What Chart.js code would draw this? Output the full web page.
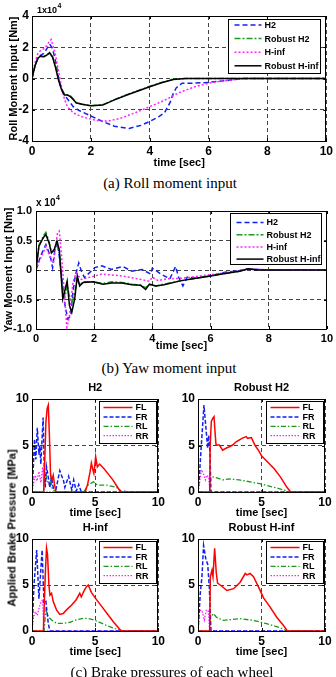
<!DOCTYPE html>
<html>
<head>
<meta charset="utf-8">
<script src="https://cdn.jsdelivr.net/npm/chart.js@4.4.0/dist/chart.umd.min.js"></script>
<style>
  body { margin: 0; background: #fff; width: 336px; height: 677px; position: relative; overflow: hidden; }
  canvas { position: absolute; }
  .cap { position: absolute; width: 336px; text-align: center; font-family: "Liberation Serif", "Times New Roman", serif; font-size: 15px; line-height: 18px; color: #000; }
  .ylab { position: absolute; font-family: "Liberation Sans", Arial, sans-serif; font-weight: bold; font-size: 11px; line-height: 13px; white-space: nowrap; transform: translate(-50%, -50%) rotate(-90deg); }
</style>
</head>
<body>
<canvas id="roll" width="336" height="170" style="left:0;top:0"></canvas>
<div class="cap" style="left:2px;top:174px">(a) Roll moment input</div>
<canvas id="yaw" width="336" height="163" style="left:0;top:190px"></canvas>
<div class="cap" style="left:1px;top:359px">(b) Yaw moment input</div>
<canvas id="bH2" width="168" height="145" style="left:0;top:375px"></canvas>
<canvas id="bRH2" width="168" height="145" style="left:168px;top:375px"></canvas>
<canvas id="bHinf" width="168" height="144" style="left:0;top:515px"></canvas>
<canvas id="bRHinf" width="168" height="144" style="left:168px;top:515px"></canvas>
<div class="ylab" style="left:12px;top:528px">Applied Brake Pressure [MPa]</div>
<div class="cap" style="left:4px;top:663px">(c) Brake pressures of each wheel</div>
<script>
// ---- roll moment input, x1e4 Nm ----
const rollT_H2 = [0,0.1,0.2,0.3,0.4,0.5,0.6,0.7,0.8,0.9,1.0,1.1,1.2,1.4,1.6,2.0,2.4,2.8,3.3,3.7,4.0,4.3,4.5,4.7,4.8,4.9,5.1,5.5,6.0,6.5,7.2,10];
const rollH2    = [0,0.8,1.3,1.5,1.6,1.9,2.2,1.9,1.1,0.1,-0.7,-1.05,-1.3,-1.8,-2.05,-2.4,-2.75,-3.05,-3.2,-3.0,-2.75,-2.45,-2.2,-1.5,-0.95,-0.6,-0.3,-0.3,-0.25,-0.15,0,0];
const rollT_Hinf = [0,0.1,0.2,0.3,0.4,0.5,0.6,0.65,0.7,0.8,0.9,1.0,1.1,1.2,1.4,1.7,2.0,2.3,2.6,3.0,3.5,4.0,4.5,5.0,5.5,6.0,6.5,7.0,7.3,10];
const rollHinf   = [0,1.0,1.6,1.8,1.9,2.1,2.4,2.5,2.2,1.5,0.5,-0.5,-1.3,-1.8,-2.2,-2.45,-2.6,-2.72,-2.72,-2.55,-2.2,-1.8,-1.4,-0.9,-0.55,-0.3,-0.15,-0.05,0,0];
const rollT_R   = [0,0.1,0.2,0.3,0.4,0.5,0.6,0.7,0.8,0.9,1.0,1.1,1.2,1.3,1.4,1.5,1.7,2.0,2.4,2.8,3.2,3.6,4.0,4.4,4.8,5.2,6.0,10];
const rollRH2   = [0,0.8,1.3,1.4,1.4,1.5,1.6,1.4,0.8,0,-0.6,-1.0,-1.05,-1.1,-1.3,-1.55,-1.65,-1.75,-1.68,-1.35,-1.05,-0.78,-0.5,-0.25,-0.05,0,0,0];
const rollRHinf = [0,0.8,1.3,1.45,1.4,1.5,1.65,1.35,0.7,-0.1,-0.7,-1.05,-1.05,-1.15,-1.35,-1.55,-1.65,-1.75,-1.7,-1.37,-1.07,-0.8,-0.53,-0.27,-0.06,0,0,0];

// ---- yaw moment input, x1e4 Nm ----
const yawT_H2 = [0,0.16,0.34,0.49,0.57,0.65,0.74,0.86,0.98,1.09,1.19,1.27,1.35,1.47,1.56,1.67,1.85,2.02,2.26,2.6,2.98,3.3,3.65,3.94,4.0,4.3,4.6,4.8,4.9,5.05,5.2,5.5,6.0,6.5,7.0,7.3,8.0,10];
const yawH2   = [0,0.24,0.43,0.24,0.04,0.35,0.46,0.01,-0.55,-0.83,-0.78,-0.38,-0.1,0.12,-0.02,-0.13,-0.04,0.04,0.07,0.01,0.06,-0.02,0.01,-0.07,0.03,-0.07,-0.15,0.06,-0.12,-0.27,-0.12,-0.14,-0.1,-0.04,-0.01,0.02,0,0];
const yawT_Hinf = [0,0.16,0.34,0.51,0.6,0.74,0.8,0.88,0.98,1.06,1.15,1.27,1.38,1.56,1.79,2.26,2.95,3.5,3.9,4.0,4.2,4.5,5.0,5.5,6.0,6.5,7.0,7.3,8.0,10];
const yawHinf   = [0,0.2,0.4,0.18,0.12,0.63,0.66,0.24,-0.44,-0.97,-0.78,-0.21,-0.05,-0.16,-0.13,-0.07,-0.1,-0.15,-0.19,-0.12,-0.18,-0.15,-0.14,-0.11,-0.08,-0.05,-0.01,0.02,0,0];
const yawT_R   = [0,0.1,0.2,0.28,0.34,0.45,0.53,0.63,0.72,0.8,0.92,1.0,1.07,1.15,1.23,1.33,1.42,1.5,1.62,1.97,2.3,2.6,2.95,3.3,3.6,3.77,3.9,4.12,4.4,5.0,5.5,6.0,6.5,7.0,7.3,7.6,8.0,10];
const yawRH2   = [0,0.42,0.52,0.6,0.64,0.48,0.3,0.33,0.45,0.3,-0.4,-0.45,-0.25,-0.45,-0.55,-0.4,-0.15,-0.25,-0.2,-0.2,-0.23,-0.2,-0.21,-0.24,-0.26,-0.3,-0.25,-0.27,-0.24,-0.18,-0.14,-0.1,-0.06,-0.02,0.02,0,0,0];
const yawRHinf = [0,0.4,0.5,0.57,0.6,0.46,0.29,0.35,0.49,0.35,-0.49,-0.33,-0.19,-0.6,-0.72,-0.49,-0.1,-0.27,-0.21,-0.2,-0.24,-0.22,-0.22,-0.25,-0.26,-0.33,-0.24,-0.27,-0.25,-0.18,-0.14,-0.1,-0.06,-0.02,0.02,0,0,0];

// ---- brake pressures, MPa : H2 ----
const bH2T_FL = [0,0.92,1.0,1.1,1.2,1.29,1.38,1.47,1.58,1.68,1.78,1.9,4.2,4.4,4.6,4.7,4.8,4.9,5.04,5.17,5.35,5.7,6.0,6.4,6.66,6.93,7.1,10];
const bH2FL   = [0,0,3,7.5,9.0,9.35,6,1.8,1.3,1.8,0.8,0,0,0.8,2.2,3.1,2.5,2.0,3.8,2.7,3.0,2.5,2.0,1.3,0.75,0.2,0,0];
const bH2T_FR = [0,0.1,0.2,0.3,0.42,0.55,0.62,0.7,0.88,0.98,1.05,1.15,1.3,1.4,1.55,1.7,1.9,2.2,2.5,2.6,2.9,3.15,3.3,3.5,3.7,3.9,7.2,7.3,7.4,10];
const bH2FR   = [0,2.5,5.7,3.5,6.9,4,5,3,8,2,0.5,2.7,1.5,0.5,1.6,0.3,0.3,2.3,1.2,0.5,1.7,0.2,1.3,0.1,0.8,0,0,0.15,0,0];
const bH2T_RL = [0,0.92,1.0,1.1,1.2,1.3,1.42,1.5,1.6,1.9,4.1,4.43,4.88,5.0,5.2,5.88,6.66,6.9,7.1,10];
const bH2RL   = [0,0,2.0,1.8,1.2,1.0,0.75,1.5,0.3,0,0,0.75,1.1,0.9,0.75,0.75,0.5,0.3,0,0];
const bH2T_RR = [0,0.1,0.25,0.4,0.55,0.7,0.85,0.95,10];
const bH2RR   = [0,0.8,1.8,1.2,2.2,1.0,2.7,0,0];

// ---- Robust H2 ----
const bRH2T_FL = [0,0.92,0.96,1.05,1.15,1.26,1.36,1.42,1.68,1.94,2.2,2.47,2.73,3.0,3.5,3.8,3.9,4.2,4.5,4.8,5.0,5.5,6.0,6.5,7.0,7.3,10];
const bRH2FL   = [0,0,5,7.6,7.9,8.1,6.1,5.05,5.05,4.5,4.7,4.87,5.05,5.4,5.8,5.95,5.77,5.85,5.0,4.4,3.9,3.2,2.5,1.6,0.5,0,0];
const bRH2T_FR = [0,0.1,0.26,0.47,0.63,0.76,0.84,0.94,1.02,10];
const bRH2FR   = [0,1.5,5.0,9.35,6.8,4.7,6.1,4.3,0,0];
const bRH2T_RL = [0,0.92,1.0,1.1,1.42,1.94,2.47,3.25,4.3,5.0,6.0,6.8,7.1,10];
const bRH2RL   = [0,0,1.5,1.65,1.54,1.3,1.4,1.3,1.04,0.85,0.5,0.2,0,0];
const bRH2T_RR = [0,0.1,0.26,0.42,0.58,0.68,0.84,0.94,10];
const bRH2RR   = [0,0.75,2.4,2.0,1.3,1.8,1.6,0,0];

// ---- H-inf ----
const bHiT_FL = [0,0.9,1.05,1.15,1.23,1.34,1.42,1.55,1.68,1.94,2.2,2.47,2.73,3.12,3.5,3.78,3.9,4.1,4.3,4.45,4.7,5.0,5.5,6.0,6.5,7.0,7.2,10];
const bHiFL   = [0,0,6.1,9.0,8.3,5.0,3.9,4.1,3.2,2.3,1.8,1.9,2.3,2.8,3.4,4.1,3.7,4.3,4.8,5.0,4.2,3.6,2.7,1.8,0.9,0.1,0,0];
const bHiT_FR = [0,0.16,0.37,0.55,0.8,0.95,1.1,1.29,1.42,10];
const bHiFR   = [0,5,8.8,3.5,8.8,3,3.2,0.8,0,0];
const bHiT_RL = [0,0.95,1.1,1.29,1.55,1.94,2.47,3.0,3.5,4.05,4.5,5.0,5.5,6.0,6.5,7.0,7.2,10];
const bHiRL   = [0,0,2.3,1.55,1.2,0.83,0.83,0.95,1.2,1.38,1.35,1.15,0.85,0.55,0.3,0.05,0,0];
const bHiT_RR = [0,0.1,0.26,0.42,0.58,0.73,0.84,0.94,10];
const bHiRR   = [0,1.4,2.1,1.7,2.6,3.2,3.4,0,0];

// ---- Robust H-inf ----
const bRHiT_FL = [0,0.92,0.97,1.1,1.18,1.31,1.44,1.54,1.75,2.28,2.8,3.32,3.72,3.85,4.1,4.37,4.76,5.16,5.68,6.2,6.73,7.04,10];
const bRHiFL   = [0,0,5.9,6.6,5.9,9.0,6.3,5.2,5.0,4.4,4.6,5.3,6.25,6.1,6.25,5.9,4.8,3.6,2.6,1.5,0.6,0,0];
const bRHiT_FR = [0,0.18,0.31,0.44,0.63,0.76,0.89,1.02,10];
const bRHiFR   = [0,4.1,5.9,9.3,7.7,7.3,4.8,0,0];
const bRHiT_RL = [0,0.92,0.97,1.23,1.44,2.0,3.3,4.37,5.4,6.47,7.0,10];
const bRHiRL   = [0,0,1.5,1.9,1.5,1.15,1.35,1.15,0.8,0.35,0,0];
const bRHiT_RR = [0,0.13,0.31,0.5,0.65,0.81,0.92,10];
const bRHiRR   = [0,2.25,2.25,1.2,2.25,2.25,0,0];

const FONT = '"Liberation Sans", Arial, sans-serif';

// line styles (matlab-ish)
const STYLE = {
  'H2':            { color: '#1020f0', dash: [5, 3] },
  'Robust H2':     { color: '#1c9a1c', dash: [6, 2, 2, 2] },
  'H-inf':         { color: '#ff22ff', dash: [2, 2] },
  'Robust H-inf':  { color: '#000000', dash: [] },
  'FL':            { color: '#ff0000', dash: [] },
  'FR':            { color: '#1020f0', dash: [4, 2] },
  'RL':            { color: '#1c9a1c', dash: [5, 2, 1.5, 2] },
  'RR':            { color: '#ff22ff', dash: [1.5, 1.5] },
};

function ds(label, t, v, order, width) {
  const s = STYLE[label];
  return {
    label: label,
    data: t.map((x, i) => ({ x: x, y: v[i] })),
    borderColor: s.color,
    borderDash: s.dash,
    borderWidth: width,
    pointRadius: 0,
    tension: 0,
    fill: false,
    order: order,
  };
}

// frame, inner ticks, boxed legend, titles, exponent label
const deco = {
  id: 'deco',
  afterDraw(chart, args, o) {
    const { ctx, chartArea: a, scales } = chart;
    ctx.save();
    ctx.setLineDash([]);
    ctx.strokeStyle = '#000';
    ctx.lineWidth = 1;
    ctx.strokeRect(Math.round(a.left) + 0.5, Math.round(a.top) + 0.5, Math.round(a.right - a.left) - 1, Math.round(a.bottom - a.top));
    ctx.beginPath();
    scales.x.ticks.forEach(t => {
      const px = Math.round(scales.x.getPixelForValue(t.value)) + 0.5;
      ctx.moveTo(px, a.bottom); ctx.lineTo(px, a.bottom - 3);
      ctx.moveTo(px, a.top); ctx.lineTo(px, a.top + 3);
    });
    scales.y.ticks.forEach(t => {
      const py = Math.round(scales.y.getPixelForValue(t.value)) + 0.5;
      ctx.moveTo(a.left, py); ctx.lineTo(a.left + 3, py);
      ctx.moveTo(a.right, py); ctx.lineTo(a.right - 3, py);
    });
    ctx.stroke();

    // legend box
    const L = o.legend;
    const bx = Math.round(a.right - L.offR - L.w) + 0.5;
    const by = Math.round(a.top + L.offT) + 0.5;
    ctx.fillStyle = '#fff';
    ctx.fillRect(bx, by, L.w, L.h);
    ctx.strokeRect(bx, by, L.w, L.h);
    ctx.font = 'bold ' + L.font + 'px ' + FONT;
    ctx.textBaseline = 'middle';
    ctx.textAlign = 'left';
    chart.data.datasets.forEach((d, i) => {
      const yy = by + L.y0 + i * L.dy;
      ctx.save();
      ctx.strokeStyle = d.borderColor;
      ctx.lineWidth = d.borderWidth;
      ctx.setLineDash(d.borderDash);
      ctx.beginPath();
      ctx.moveTo(bx + L.lx, yy);
      ctx.lineTo(bx + L.lx + L.llen, yy);
      ctx.stroke();
      ctx.restore();
      ctx.fillStyle = '#000';
      ctx.fillText(d.label, bx + L.tx, yy + 0.5);
    });

    if (o.title) {
      ctx.font = 'bold 11px ' + FONT;
      ctx.textAlign = 'center';
      ctx.fillStyle = '#000';
      ctx.fillText(o.title, (a.left + a.right) / 2, a.top - 11.5);
    }
    if (o.exp) {
      const e = o.exp;
      ctx.font = 'bold ' + e.size + 'px ' + FONT;
      ctx.textAlign = 'left';
      ctx.fillStyle = '#000';
      ctx.fillText(e.base, e.x, e.y);
      const w = ctx.measureText(e.base).width;
      ctx.font = 'bold 7px ' + FONT;
      ctx.fillText(e.sup, e.x + w + 0.5, e.y - 5);
    }
    ctx.restore();
  }
};

function plot(id, datasets, o) {
  const tickFont = { family: FONT, size: o.tick, weight: 'bold' };
  const titleFont = { family: FONT, size: 11, weight: 'bold' };
  return new Chart(document.getElementById(id), {
    type: 'line',
    data: { datasets: datasets },
    plugins: [deco],
    options: {
      responsive: false,
      animation: false,
      devicePixelRatio: 1,
      layout: { padding: { left: 0, right: o.padR, top: o.padT, bottom: 0 } },
      plugins: { legend: { display: false }, tooltip: { enabled: false }, deco: o.deco },
      scales: {
        x: {
          type: 'linear', min: 0, max: 10,
          ticks: { stepSize: o.xStep, font: tickFont, color: '#000', padding: 3, maxRotation: 0, autoSkip: false },
          grid: { color: '#444', lineWidth: 1, drawTicks: false },
          border: { color: '#000', dash: [4, 3] },
          title: { display: true, text: 'time [sec]', font: titleFont, color: '#000', padding: { top: 0, bottom: 0 } },
          afterFit: s => { s.height = o.xH; },
        },
        y: {
          type: 'linear', min: o.yMin, max: o.yMax,
          ticks: { stepSize: o.yStep, font: tickFont, color: '#000', padding: o.yPad },
          grid: { color: '#444', lineWidth: 1, drawTicks: false },
          border: { color: '#000', dash: [4, 3] },
          title: o.yTitle
            ? { display: true, text: o.yTitle, font: titleFont, color: '#000', padding: { top: o.yTitlePad, bottom: 0 } }
            : { display: false },
          afterFit: s => { s.width = o.yW; },
        },
      },
    },
  });
}

const bigLegend = { w: 92, h: 54, offR: 6, offT: 3, y0: 5.5, dy: 13.6, lx: 6, llen: 27, tx: 36, font: 9 };
const smallLegend = { w: 57, h: 42, offR: 2, offT: 2, y0: 6, dy: 9.4, lx: 4, llen: 29, tx: 36, font: 9 };

plot('roll', [
  ds('H2', rollT_H2, rollH2, 3, 1.5),
  ds('Robust H2', rollT_R, rollRH2, 2, 1.5),
  ds('H-inf', rollT_Hinf, rollHinf, 1, 1.5),
  ds('Robust H-inf', rollT_R, rollRHinf, 0, 1.5),
], {
  padR: 9, padT: 16, xH: 29, yW: 32, tick: 12, yPad: 3, xStep: 2, yMin: -4, yMax: 4, yStep: 2,
  yTitle: 'Roll Moment Input [Nm]', yTitlePad: 7,
  deco: { legend: bigLegend, exp: { base: '1x10', sup: '4', x: 37, y: 11, size: 9 } },
});

plot('yaw', [
  ds('H2', yawT_H2, yawH2, 3, 1.5),
  ds('Robust H2', yawT_R, yawRH2, 2, 1.5),
  ds('H-inf', yawT_Hinf, yawHinf, 1, 1.5),
  ds('Robust H-inf', yawT_R, yawRHinf, 0, 1.5),
], {
  padR: 9, padT: 21, xH: 24, yW: 36, tick: 11, yPad: 4, xStep: 2, yMin: -1, yMax: 1, yStep: 0.5,
  yTitle: 'Yaw Moment Input [Nm]', yTitlePad: 2,
  deco: { legend: { w: 91, h: 51, offR: 6, offT: 2, y0: 9, dy: 12.2, lx: 6, llen: 27, tx: 36, font: 9 },
          exp: { base: 'x 10', sup: '4', x: 36, y: 13, size: 10 } },
});

const sub = { padR: 9, padT: 24, xH: 28, yW: 32, tick: 12, yPad: 3, xStep: 5, yMin: 0, yMax: 10, yStep: 5 };

plot('bH2', [
  ds('FL', bH2T_FL, bH2FL, 0, 1.5),
  ds('FR', bH2T_FR, bH2FR, 1, 1.5),
  ds('RL', bH2T_RL, bH2RL, 2, 1.3),
  ds('RR', bH2T_RR, bH2RR, 3, 1.3),
], Object.assign({}, sub, { deco: { legend: smallLegend, title: 'H2' } }));

plot('bRH2', [
  ds('FL', bRH2T_FL, bRH2FL, 0, 1.5),
  ds('FR', bRH2T_FR, bRH2FR, 1, 1.5),
  ds('RL', bRH2T_RL, bRH2RL, 2, 1.3),
  ds('RR', bRH2T_RR, bRH2RR, 3, 1.3),
], Object.assign({}, sub, { yW: 30, padR: 11, deco: { legend: smallLegend, title: 'Robust H2' } }));

plot('bHinf', [
  ds('FL', bHiT_FL, bHiFL, 0, 1.5),
  ds('FR', bHiT_FR, bHiFR, 1, 1.5),
  ds('RL', bHiT_RL, bHiRL, 2, 1.3),
  ds('RR', bHiT_RR, bHiRR, 3, 1.3),
], Object.assign({}, sub, { deco: { legend: smallLegend, title: 'H-inf' } }));

plot('bRHinf', [
  ds('FL', bRHiT_FL, bRHiFL, 0, 1.5),
  ds('FR', bRHiT_FR, bRHiFR, 1, 1.5),
  ds('RL', bRHiT_RL, bRHiRL, 2, 1.3),
  ds('RR', bRHiT_RR, bRHiRR, 3, 1.3),
], Object.assign({}, sub, { yW: 30, padR: 11, deco: { legend: smallLegend, title: 'Robust H-inf' } }));
</script>
</body>
</html>
